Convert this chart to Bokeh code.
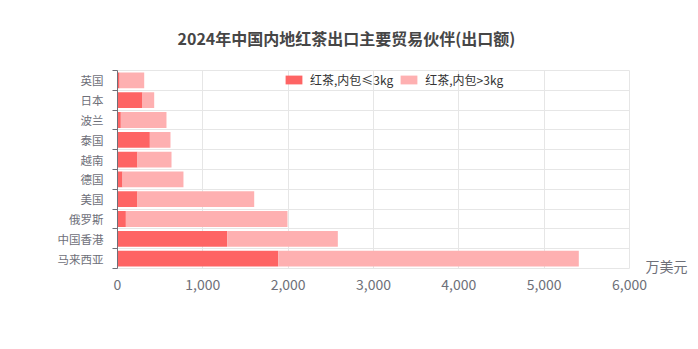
from bokeh.plotting import figure
from bokeh.models import (ColumnDataSource, FixedTicker, Legend, LegendItem, NumeralTickFormatter,
                          LinearAxis)
from bokeh.embed import file_html
from bokeh.resources import INLINE

# data (bottom to top)
partners = ["马来西亚", "中国香港", "俄罗斯", "美国", "德国", "越南", "泰国", "波兰", "日本", "英国"]
small_pack = [1883, 1285, 98, 234, 59, 234, 379, 39, 293, 25]
large_pack = [3523, 1297, 1894, 1368, 714, 399, 242, 535, 137, 288]
x_ticks = [0, 1000, 2000, 3000, 4000, 5000, 6000]
series_names = ["红茶,内包≤3kg", "红茶,内包>3kg"]
title_text = "2024年中国内地红茶出口主要贸易伙伴(出口额)"
unit_text = "万美元"

FONT = "Noto Sans CJK SC"
n = len(partners)
centers = [i + 0.5 for i in range(n)]
bounds = [i for i in range(n + 1)]

src = ColumnDataSource(dict(y=centers, small=small_pack, large=large_pack))

p = figure(width=698, height=349, output_backend="svg", toolbar_location=None,
           x_range=(0, 6000), y_range=(0, n),
           min_border_left=117, min_border_right=69, min_border_top=70, min_border_bottom=81)
p.outline_line_color = "#e6e6e6"
p.background_fill_color = "white"
p.border_fill_color = "white"

p.title.text = title_text
p.title.align = "left"
p.title.offset = 60
p.title.standoff = 42
p.title.text_font = FONT
p.title.text_font_size = "16px"
p.title.text_font_style = "bold"
p.title.text_color = "#464646"

r = p.hbar_stack(["small", "large"], y="y", height=0.8, source=src,
                 color=["#fe6464", "#feb0b1"], line_color=None)

# axes
xa = p.xaxis[0]
xa.ticker = FixedTicker(ticks=x_ticks)
xa.formatter = NumeralTickFormatter(format="0,0")
xa.axis_line_color = None
xa.major_tick_line_color = None
xa.minor_tick_line_color = None
xa.major_label_text_font = FONT
xa.major_label_text_font_size = "14px"
xa.major_label_text_color = "#6e7079"
xa.major_label_standoff = 4

ya = p.yaxis[0]
ya.ticker = FixedTicker(ticks=centers, minor_ticks=bounds)
ya.major_label_overrides = {c: name for c, name in zip(centers, partners)}
ya.axis_line_color = "#6e7079"
ya.major_tick_line_color = None
ya.minor_tick_line_color = "#6e7079"
ya.minor_tick_out = 5
ya.minor_tick_in = 0
ya.major_label_text_font = FONT
ya.major_label_text_font_size = "11.5px"
ya.major_label_text_color = "#6e7079"
ya.major_label_standoff = 8

# unit name at the end of the value axis (placed on the right, level with the axis)
unit_axis = LinearAxis(ticker=FixedTicker(ticks=[0.15]), major_label_overrides={0.15: unit_text},
                       axis_line_color=None, major_tick_line_color=None, minor_tick_line_color=None,
                       major_label_text_font=FONT, major_label_text_font_size="14px",
                       major_label_text_color="#6e7079", major_label_standoff=10)
p.add_layout(unit_axis, "right")

p.xgrid.ticker = FixedTicker(ticks=x_ticks)
p.xgrid.grid_line_color = "#e6e6e6"
p.ygrid.ticker = FixedTicker(ticks=bounds)
p.ygrid.grid_line_color = "#e6e6e6"

legend = Legend(items=[LegendItem(label=series_names[0], renderers=[r[0]]),
                       LegendItem(label=series_names[1], renderers=[r[1]])],
                orientation="horizontal", location=(166, 180),
                background_fill_alpha=0, border_line_color=None,
                label_text_font=FONT, label_text_font_size="12px", label_text_color="#333333",
                glyph_width=21, glyph_height=11, label_standoff=6, spacing=5,
                padding=0, margin=0)
p.add_layout(legend)

open("out.html", "w").write(file_html(p, INLINE))
